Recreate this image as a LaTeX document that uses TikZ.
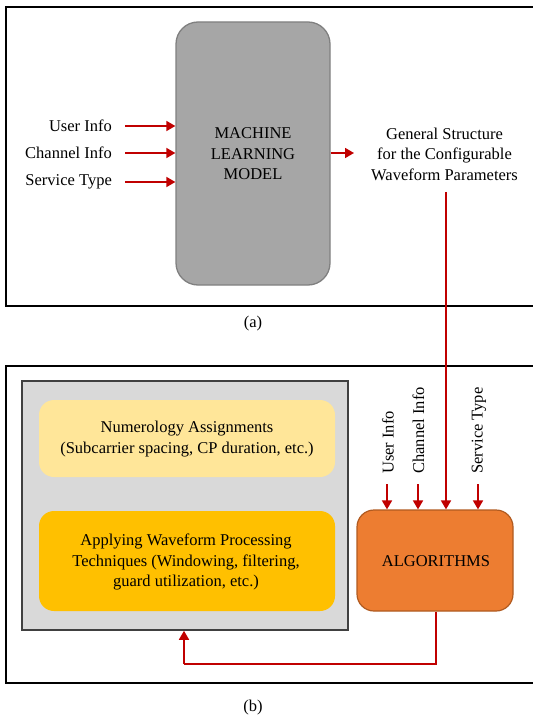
\documentclass[tikz,border=0pt]{standalone}
\usepackage{fontspec}
\setmainfont{Liberation Serif}
\usetikzlibrary{arrows.meta}
\definecolor{arrred}{HTML}{C00000}
\definecolor{mlgray}{HTML}{A6A6A6}
\definecolor{mlborder}{HTML}{808080}
\definecolor{panelgray}{HTML}{D9D9D9}
\definecolor{lightyel}{HTML}{FFE699}
\definecolor{darkyel}{HTML}{FFC000}
\definecolor{orangefill}{HTML}{ED7D31}
\definecolor{orangeborder}{HTML}{B05A20}
\tikzset{
  txt/.style={font=\fontsize{16.5}{20.5}\selectfont, inner sep=0pt, align=center},
  redarrow/.style={draw=arrred, line width=1.7pt, -{Triangle[length=9pt,width=10pt]}},
  redline/.style={draw=arrred, line width=1.7pt},
  frame/.style={draw=black, line width=2pt},
}
\begin{document}
\begin{tikzpicture}[x=1pt,y=-1pt]
\useasboundingbox (0,0) rectangle (532,719);
% frames (right side cut off)
\draw[frame] (533,7) -- (6,7) -- (6,306) -- (533,306);
\draw[frame] (533,366) -- (6,366) -- (6,683) -- (533,683);
% (a)
\node[draw=mlborder, line width=1.3pt, fill=mlgray, rounded corners=22pt, minimum width=154pt, minimum height=263pt, inner sep=0pt] (ml) at (253,153.5) {};
\node[txt] (mltext) at (253,154) {MACHINE\\LEARNING\\MODEL};
\node[txt, anchor=east] (ui) at (112,126) {User Info};
\node[txt, anchor=east] (ci) at (112,153) {Channel Info};
\node[txt, anchor=east] (st) at (112,182) {Service Type};
\coordinate (uis) at (125,126);
\coordinate (cis) at (125,153);
\coordinate (sts) at (125,182);
\draw[redarrow] (uis) -- (ml.west |- uis);
\draw[redarrow] (cis) -- (ml.west |- cis);
\draw[redarrow] (sts) -- (ml.west |- sts);
\node[txt] (gs) at (444.5,154) {General Structure\\for the Configurable\\Waveform Parameters};
\coordinate (outend) at (354,153);
\draw[redarrow] (ml.east |- outend) -- (outend);
\node[txt] (capa) at (253,324) {(a)};
% (b)
\node[draw=black!75, line width=1.6pt, fill=panelgray, minimum width=326pt, minimum height=249pt, inner sep=0pt] (panel) at (185,505.5) {};
\node[fill=lightyel, rounded corners=15pt, minimum width=296pt, minimum height=77pt, inner sep=0pt] (num) at (187,438.5) {};
\node[txt] (numt) at (187,439) {Numerology Assignments\\(Subcarrier spacing, CP duration, etc.)};
\node[fill=darkyel, rounded corners=15pt, minimum width=296pt, minimum height=100pt, inner sep=0pt] (awp) at (187,561) {};
\node[txt] (awpt) at (186,562) {Applying Waveform Processing\\Techniques (Windowing, filtering,\\guard utilization, etc.)};
\node[draw=orangeborder, line width=1.2pt, fill=orangefill, rounded corners=17pt, minimum width=156pt, minimum height=101pt, inner sep=0pt] (alg) at (435,560.5) {};
\node[txt] (algt) at (436,561) {ALGORITHMS};
\node[txt, rotate=90, anchor=west] (ui2) at (388,474) {User Info};
\node[txt, rotate=90, anchor=west] (ci2) at (418.5,474) {Channel Info};
\node[txt, rotate=90, anchor=west] (st2) at (479,474) {Service Type};
\coordinate (a1) at (387,484);
\coordinate (a2) at (418,484);
\coordinate (a4) at (478,484);
\draw[redarrow] (a1) -- (a1 |- alg.north);
\draw[redarrow] (a2) -- (a2 |- alg.north);
\draw[redarrow] (a4) -- (a4 |- alg.north);
\coordinate (gsb) at (446,192);
\draw[redarrow] (gsb) -- (gsb |- alg.north);
\coordinate (fb1) at (436,664);
\coordinate (fb2) at (184,664);
\draw[redline] (alg.south -| fb1) -- (fb1) -- (fb2);
\draw[redarrow] (fb2) -- (fb2 |- panel.south);
\node[txt] (capb) at (253,708) {(b)};
\end{tikzpicture}
\end{document}
